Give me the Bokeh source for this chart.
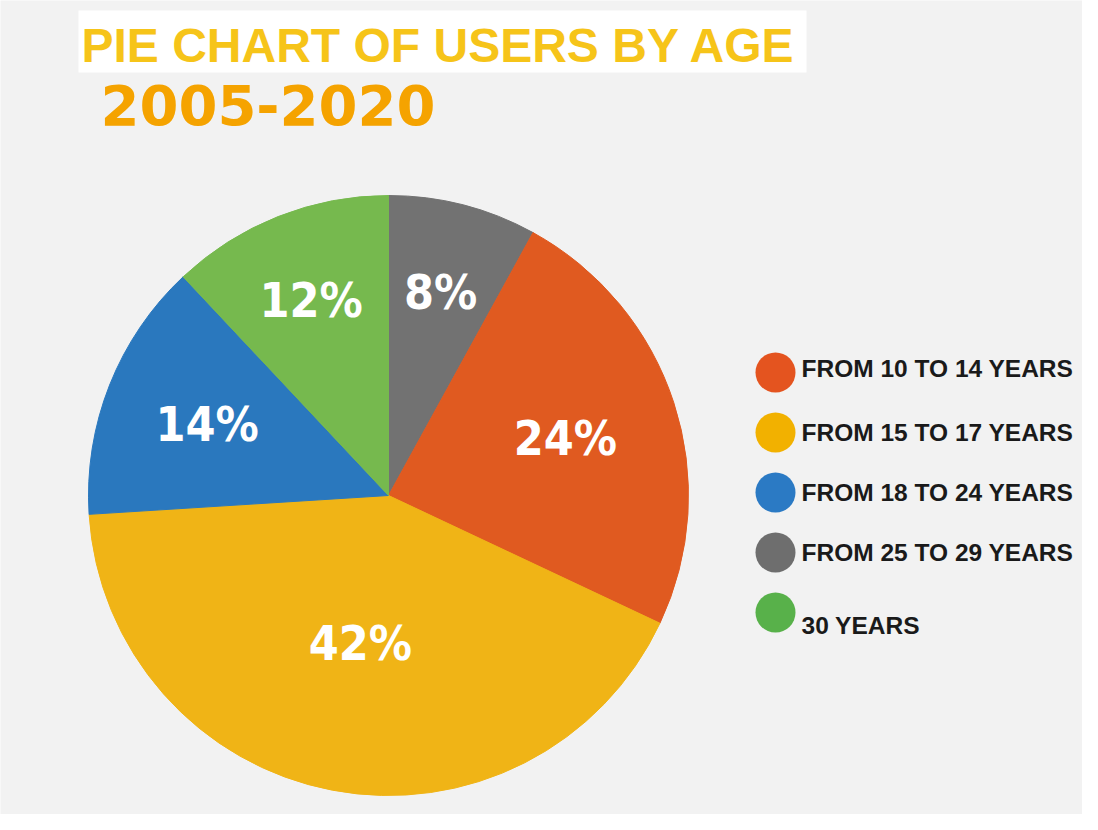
import math
from bokeh.plotting import figure
from bokeh.models import Range1d, ColumnDataSource, Label, BoxAnnotation
from bokeh.core.properties import value
from bokeh.embed import file_html
from bokeh.resources import INLINE

# ---------------- data ----------------
categories = ["FROM 10 TO 14 YEARS", "FROM 15 TO 17 YEARS", "FROM 18 TO 24 YEARS",
              "FROM 25 TO 29 YEARS", "30 YEARS"]
shares = [24, 42, 14, 8, 12]
pie_colors = ["#e05a20", "#f0b416", "#2a78be", "#727272", "#76b94e"]
legend_colors = ["#e4541f", "#f2b100", "#2b7ac4", "#6e6e6e", "#58b14a"]
pie_order = [3, 0, 1, 2, 4]          # clockwise from 12 o'clock
title_text = "PIE CHART OF USERS BY AGE"
subtitle_text = "2005-2020"

# ---------------- layout ----------------
W, H = 1082, 814
CX, CY, R = 388, 495, 300            # screen px
label_r = {3: 0.70, 0: 0.62, 1: 0.50, 2: 0.65, 4: 0.70}

p = figure(width=W, height=H, output_backend="svg", toolbar_location=None,
           x_range=Range1d(0, W), y_range=Range1d(-H, 0),
           min_border=0, background_fill_color="#f2f2f2",
           border_fill_color="#f2f2f2", outline_line_color=None)
p.axis.visible = False
p.grid.visible = False

# white strip behind the title
p.add_layout(BoxAnnotation(left=78, right=806, top=-10, bottom=-72,
                           fill_color="white", fill_alpha=1.0, line_color=None))

# pie
total = float(sum(shares))
starts, ends, cols, lx, ly, ltxt = [], [], [], [], [], []
cum = 0.0
for i in pie_order:
    a0 = math.pi / 2 - cum / total * 2 * math.pi
    cum += shares[i]
    a1 = math.pi / 2 - cum / total * 2 * math.pi
    starts.append(a0); ends.append(a1); cols.append(pie_colors[i])
    mid = (a0 + a1) / 2
    lx.append(CX + label_r[i] * R * math.cos(mid))
    ly.append(-CY + label_r[i] * R * math.sin(mid))
    ltxt.append(f"{shares[i]}%")

src = ColumnDataSource(dict(s=starts, e=ends, c=cols))
p.wedge(x=CX, y=-CY, radius=R, radius_units="screen", start_angle="s", end_angle="e",
        direction="clock", fill_color="c", line_color="c", line_width=1, source=src)

p.text(x=lx, y=ly, text=ltxt, text_color="white", text_font=value("DejaVu Sans Condensed"),
       text_font_style="bold", text_font_size="48px", text_align="center",
       text_baseline="middle")

# legend (manual)
leg_y = [-(372 + 60 * k) for k in range(len(categories))]
text_dy = [4, 0, 0, 0, -13]
p.scatter(x=[775] * len(categories), y=leg_y, size=40, fill_color=legend_colors,
          line_color=None, marker="circle")
p.text(x=[801] * len(categories), y=[y + d for y, d in zip(leg_y, text_dy)], text=categories,
       text_color="#1a1a1a", text_font=value("Liberation Sans"), text_font_style="bold",
       text_font_size="24.5px", text_align="left", text_baseline="middle")

# titles
p.add_layout(Label(x=81, y=-45, text=title_text, text_color="#f6c419",
                   text_font="Liberation Sans", text_font_style="bold",
                   text_font_size="48px", text_baseline="middle", text_align="left"))
p.add_layout(Label(x=100, y=-104, text=subtitle_text, text_color="#f5a300",
                   text_font="DejaVu Sans", text_font_style="bold",
                   text_font_size="56px", text_baseline="middle", text_align="left"))

open("out.html", "w").write(file_html(p, INLINE))
